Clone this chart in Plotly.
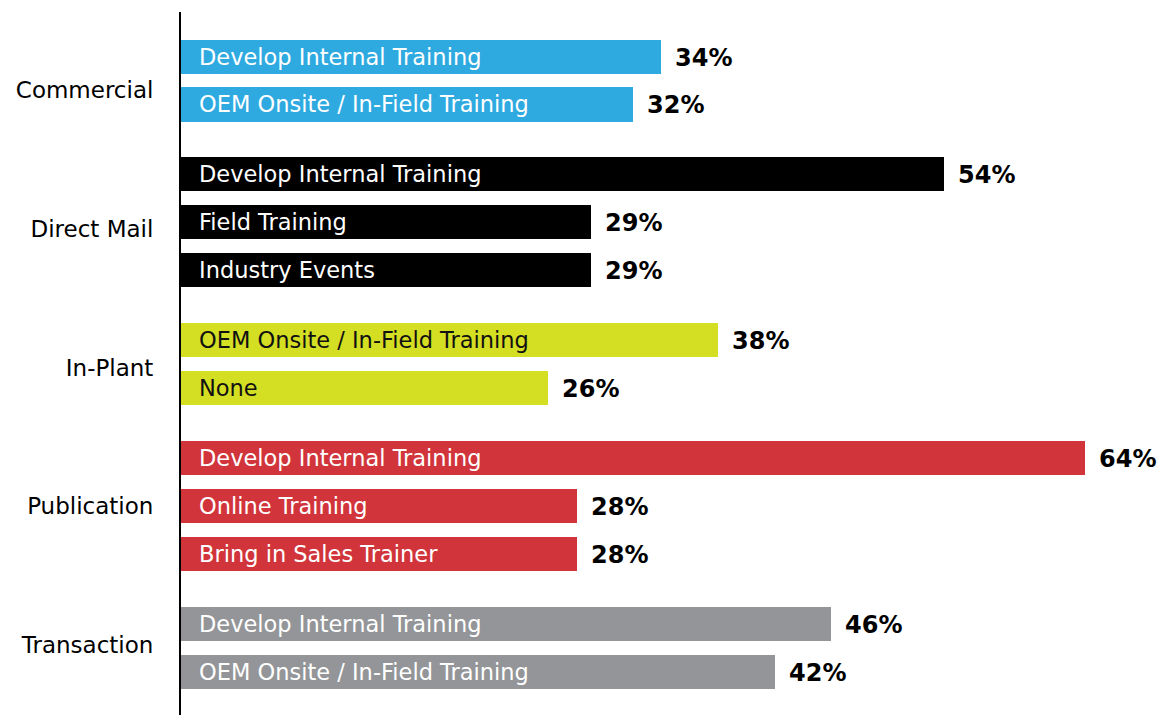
import plotly.graph_objects as go

groups = ["Commercial", "Direct Mail", "In-Plant", "Publication", "Transaction"]
group_colors = ["#2EAAE1", "#000000", "#D4DE23", "#D1343A", "#939598"]
group_text_colors = ["white", "white", "#111111", "white", "white"]

labels = [
    ["Develop Internal Training", "OEM Onsite / In-Field Training"],
    ["Develop Internal Training", "Field Training", "Industry Events"],
    ["OEM Onsite / In-Field Training", "None"],
    ["Develop Internal Training", "Online Training", "Bring in Sales Trainer"],
    ["Develop Internal Training", "OEM Onsite / In-Field Training"],
]
values = [
    [34, 32],
    [54, 29, 29],
    [38, 26],
    [64, 28, 28],
    [46, 42],
]

FONT = "DejaVu Sans"
GAP = 0.46  # extra space between groups, in bar slots

ys, xs, cols, txts, tcols = [], [], [], [], []
pos = 0.0
for g, name in enumerate(groups):
    for lab, v in zip(labels[g], values[g]):
        ys.append(pos)
        xs.append(v)
        cols.append(group_colors[g])
        txts.append(lab)
        tcols.append(group_text_colors[g])
        pos += 1
    pos += GAP

# category names sit evenly spaced down the axis, not on group centres
first, last = 0.7, ys[-1] - 0.56
step = (last - first) / (len(groups) - 1)
label_pos = [first + i * step for i in range(len(groups))]

fig = go.Figure()
fig.add_trace(go.Bar(
    x=xs, y=ys, orientation="h", width=0.71,
    marker=dict(color=cols, line=dict(width=0)),
    hoverinfo="skip", showlegend=False,
))

for y, x, t, tc in zip(ys, xs, txts, tcols):
    fig.add_annotation(x=0, y=y, text=t, showarrow=False, xanchor="left",
                       xshift=16, font=dict(family=FONT, size=22.5, color=tc))
    fig.add_annotation(x=x, y=y, text=f"<b>{x}%</b>", showarrow=False,
                       xanchor="left", xshift=12, yshift=-1,
                       font=dict(family=FONT, size=24, color="black"))

fig.update_xaxes(range=[0, 70.2], visible=False, automargin=False)
fig.update_yaxes(
    range=[13.74, -0.93], tickvals=label_pos, ticktext=groups,
    showgrid=False, zeroline=False, showline=True, linecolor="black",
    linewidth=2, ticks="", ticklabelstandoff=21, automargin=False,
    tickfont=dict(family=FONT, size=23, color="black"),
)
# the page body adds 8px, so size/margins are trimmed by that
fig.update_layout(
    width=1165, height=707, plot_bgcolor="white", paper_bgcolor="white",
    margin=dict(l=173, r=0, t=4, b=0), bargap=0,
)
fig.write_html("out.html")
